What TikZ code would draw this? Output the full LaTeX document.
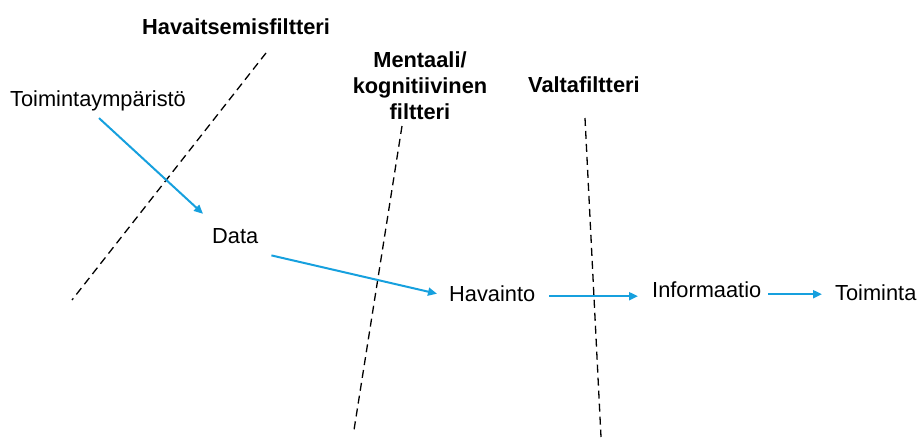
\documentclass[tikz,border=0pt]{standalone}
\usepackage{fontspec}
\setmainfont{Liberation Sans}
\usetikzlibrary{arrows.meta}
\definecolor{arrblue}{RGB}{22,160,222}
\tikzset{
  lbl/.style={inner sep=0pt, anchor=base west, font=\fontsize{21.8}{26}\selectfont},
  flt/.style={inner sep=0pt, font=\fontsize{21.8}{26}\selectfont\bfseries},
  arr/.style={draw=arrblue, line width=2pt, -{Triangle[length=9pt,width=8pt]}},
  dline/.style={draw=black, line width=1.3pt, dash pattern=on 8pt off 5pt}
}
\begin{document}
\begin{tikzpicture}[x=1pt,y=-1pt]
\useasboundingbox (0,0) rectangle (919,442);
% filter labels
\node[flt, anchor=base west] (f1) at (142,34) {Havaitsemisfiltteri};
\node[flt, anchor=north, align=center] (f2) at (420,52) {Mentaali/\\kognitiivinen\\filtteri};
\node[flt, anchor=base west] (f3) at (528,92) {Valtafiltteri};
% filter lines
\draw[dline] (266,53) -- (72,300);
\draw[dline] (402,126) -- (354,430);
\draw[dline] (585,118) -- (601,437);
% process nodes
\node[lbl] (toim) at (10,106) {Toimintaympäristö};
\node[lbl] (data) at (212,243) {Data};
\node[lbl] (hav) at (449,301) {Havainto};
\node[lbl] (info) at (652,297) {Informaatio};
\node[lbl] (toiminta) at (835,300) {Toiminta};
% arrows
\draw[arr] ([shift={(1,7.4)}]toim.south) -- ([shift={(-9,-14)}]data.north west);
\draw[arr] ([shift={(13,12)}]data.south east) -- ([shift={(-12,0.5)}]hav.west);
\draw[arr] ([shift={(14,3)}]hav.east) -- ([shift={(-14,7)}]info.west);
\draw[arr] ([shift={(7,5)}]info.east) -- ([shift={(-13,2)}]toiminta.west);
\end{tikzpicture}
\end{document}
